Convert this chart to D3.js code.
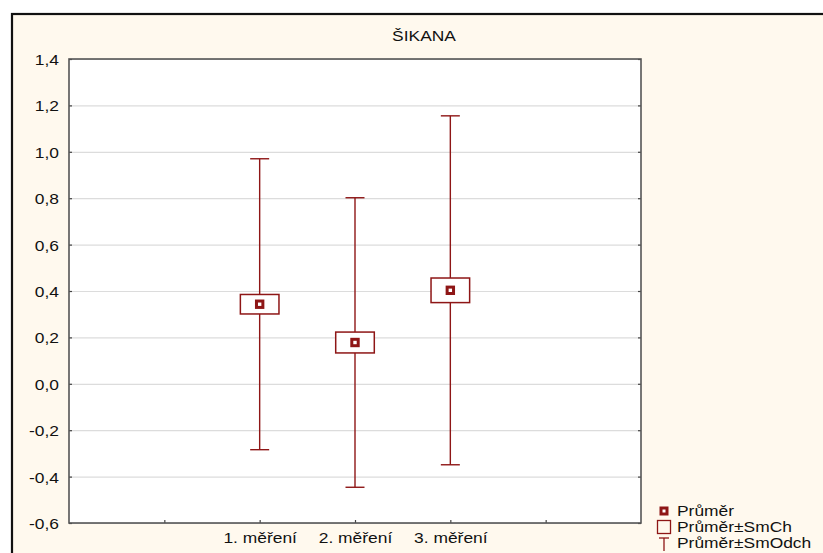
<!DOCTYPE html>
<html>
<head>
<meta charset="utf-8">
<script src="https://cdn.jsdelivr.net/npm/d3@7"></script>
<style>
  html, body { margin: 0; padding: 0; background: #ffffff; }
  svg { display: block; }
  text { font-family: "Liberation Sans", Arial, sans-serif; fill: #111; }
</style>
</head>
<body>
<svg id="chart" width="823" height="553"></svg>
<script>
// Measurements (mean, standard error, standard deviation)
const categories = ["1. měření", "2. měření", "3. měření"];
const means = [0.343, 0.178, 0.403];
const stdErrors = [0.042, 0.045, 0.053];
const stdDevs = [0.627, 0.624, 0.752];

const yTicks = [-0.6, -0.4, -0.2, 0.0, 0.2, 0.4, 0.6, 0.8, 1.0, 1.2, 1.4];
const title = "ŠIKANA";
const legendLabels = ["Průměr", "Průměr±SmCh", "Průměr±SmOdch"];

const RED = "#8e1616";
const STRETCH = 1.16; // horizontal text stretch

const svg = d3.select("#chart");

// outer panel
svg.append("rect")
  .attr("x", 12).attr("y", 14).attr("width", 830).attr("height", 560)
  .attr("fill", "#fff9ee").attr("stroke", "#111").attr("stroke-width", 2.2);

const plot = { left: 69, top: 59, right: 641, bottom: 523 };

const y = d3.scaleLinear().domain([-0.6, 1.4]).range([plot.bottom, plot.top]);
// two empty slots either side of the categories
const x = d3.scaleLinear().domain([0, categories.length + 3]).range([plot.left, plot.right]);
const catPos = i => x(i + 2);

const locale = d3.formatLocale({ decimal: ",", thousands: " ", grouping: [3], minus: "-" });
const fmt = locale.format(".1f");

// plot background
svg.append("rect")
  .attr("x", plot.left).attr("y", plot.top)
  .attr("width", plot.right - plot.left).attr("height", plot.bottom - plot.top)
  .attr("fill", "#ffffff");

// horizontal gridlines
const grid = svg.append("g")
  .attr("transform", `translate(${plot.left},0)`)
  .call(d3.axisLeft(y).tickValues(yTicks).tickSize(-(plot.right - plot.left)).tickFormat(""));
grid.select(".domain").remove();
grid.selectAll("line").attr("stroke", "#dcdcdc").attr("stroke-width", 1.2);

// left axis with labels
const yAxis = svg.append("g")
  .attr("transform", `translate(${plot.left},0)`)
  .call(d3.axisLeft(y).tickValues(yTicks).tickSize(-3).tickPadding(0).tickFormat(fmt));
yAxis.select(".domain").remove();
yAxis.selectAll("line").attr("stroke", "#444").attr("stroke-width", 1.2);
yAxis.selectAll("text")
  .attr("x", -10 / STRETCH)
  .attr("dy", "0.36em")
  .attr("transform", `scale(${STRETCH},1)`)
  .style("font-size", "15px").style("font-family", "'Liberation Sans', Arial, sans-serif")
  .attr("fill", "#111");

// right axis ticks
const yAxisR = svg.append("g")
  .attr("transform", `translate(${plot.right},0)`)
  .call(d3.axisRight(y).tickValues(yTicks).tickSize(-3).tickFormat(""));
yAxisR.select(".domain").remove();
yAxisR.selectAll("line").attr("stroke", "#444").attr("stroke-width", 1.2);

// bottom axis
const xTickVals = d3.range(1, categories.length + 3);
const xAxis = svg.append("g")
  .attr("transform", `translate(0,${plot.bottom})`)
  .call(d3.axisBottom(x).tickValues(xTickVals).tickSize(-3).tickPadding(0)
    .tickFormat(v => { const i = v - 2; return (i >= 0 && i < categories.length) ? categories[i] : ""; }));
xAxis.select(".domain").remove();
xAxis.selectAll("line").attr("stroke", "#444").attr("stroke-width", 1.2);
xAxis.selectAll("text")
  .attr("y", 20)
  .attr("dy", 0)
  .attr("transform", `scale(${STRETCH},1)`)
  .style("font-size", "15px").style("font-family", "'Liberation Sans', Arial, sans-serif")
  .attr("fill", "#111");

// plot frame
svg.append("rect")
  .attr("x", plot.left).attr("y", plot.top)
  .attr("width", plot.right - plot.left).attr("height", plot.bottom - plot.top)
  .attr("fill", "none").attr("stroke", "#555").attr("stroke-width", 1.6);

// title
svg.append("text")
  .attr("transform", `translate(424,41) scale(${STRETCH},1)`)
  .attr("text-anchor", "middle")
  .style("font-size", "15px")
  .text(title);

// whiskers (mean ± SD)
const groups = svg.append("g").selectAll("g")
  .data(categories.map((c, i) => ({ c, i, m: means[i], se: stdErrors[i], sd: stdDevs[i] })))
  .join("g");

const capHalf = 9.5, boxHalf = 19.3;

groups.append("line")
  .attr("x1", d => catPos(d.i)).attr("x2", d => catPos(d.i))
  .attr("y1", d => y(d.m + d.sd)).attr("y2", d => y(d.m - d.sd))
  .attr("stroke", RED).attr("stroke-width", 1.4);
groups.append("line")
  .attr("x1", d => catPos(d.i) - capHalf).attr("x2", d => catPos(d.i) + capHalf)
  .attr("y1", d => y(d.m + d.sd)).attr("y2", d => y(d.m + d.sd))
  .attr("stroke", RED).attr("stroke-width", 1.4);
groups.append("line")
  .attr("x1", d => catPos(d.i) - capHalf).attr("x2", d => catPos(d.i) + capHalf)
  .attr("y1", d => y(d.m - d.sd)).attr("y2", d => y(d.m - d.sd))
  .attr("stroke", RED).attr("stroke-width", 1.4);

// boxes (mean ± SE)
groups.append("rect")
  .attr("x", d => catPos(d.i) - boxHalf)
  .attr("y", d => y(d.m + d.se))
  .attr("width", boxHalf * 2)
  .attr("height", d => y(d.m - d.se) - y(d.m + d.se))
  .attr("fill", "#ffffff").attr("stroke", RED).attr("stroke-width", 1.5);

// mean markers
groups.append("rect")
  .attr("x", d => catPos(d.i) - 3.2)
  .attr("y", d => y(d.m) - 3.2)
  .attr("width", 6.4).attr("height", 6.4)
  .attr("fill", "#ffffff").attr("stroke", RED).attr("stroke-width", 3);

// legend
const lg = svg.append("g");
const lx = 664, ly0 = 511, lstep = 16;
lg.append("rect").attr("x", lx - 3).attr("y", ly0 - 3).attr("width", 6).attr("height", 6)
  .attr("fill", "#fff").attr("stroke", RED).attr("stroke-width", 3);
lg.append("rect").attr("x", lx - 6.5).attr("y", ly0 + lstep - 6.5).attr("width", 13).attr("height", 13)
  .attr("fill", "none").attr("stroke", RED).attr("stroke-width", 1.3);
const wy = ly0 + 2 * lstep;
lg.append("line").attr("x1", lx - 5).attr("x2", lx + 5).attr("y1", wy - 5).attr("y2", wy - 5)
  .attr("stroke", RED).attr("stroke-width", 1.3);
lg.append("line").attr("x1", lx).attr("x2", lx).attr("y1", wy - 5).attr("y2", wy + 8)
  .attr("stroke", RED).attr("stroke-width", 1.3);
lg.selectAll("text.leg")
  .data(legendLabels)
  .join("text")
  .attr("class", "leg")
  .attr("transform", (d, i) => `translate(677,${ly0 + 5 + i * lstep}) scale(${STRETCH},1)`)
  .style("font-size", "15px")
  .text(d => d);
</script>
</body>
</html>
